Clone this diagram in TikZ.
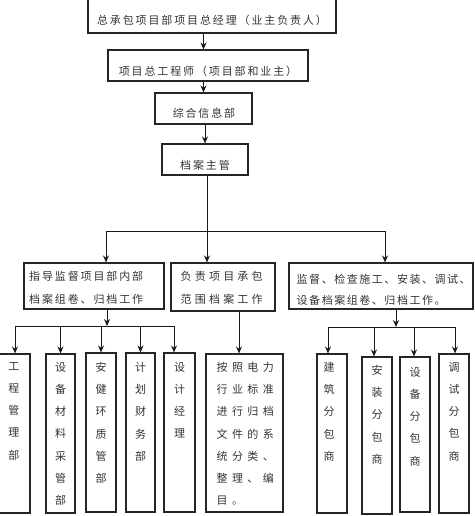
\documentclass[tikz,border=0pt]{standalone}
\usepackage{fontspec}
\usetikzlibrary{arrows.meta}
\newfontfamily\cjka[LetterSpace=17]{Noto Sans CJK SC}
\newfontfamily\cjkab[LetterSpace=14]{Noto Sans CJK SC}
\newfontfamily\cjkb[LetterSpace=29]{Noto Sans CJK SC}
\newfontfamily\cjkc[LetterSpace=40]{Noto Sans CJK SC}
\newfontfamily\cjkv{Noto Sans CJK SC}
\tikzset{
  box/.style={draw=black!85, line width=1.1pt, inner sep=0pt, rectangle},
  htxt/.style={font=\cjka\fontsize{11}{23}\selectfont, text=black!80, inner sep=0pt, align=left},
  vtxt/.style={font=\cjkv\fontsize{11}{22.2}\selectfont, text=black!80, inner sep=0pt, align=center, anchor=north},
  arr/.style={line width=1pt, draw=black!90, -{Stealth[length=7pt,width=6pt]}},
  ln/.style={line width=1pt, draw=black!90},
}
\begin{document}
\begin{tikzpicture}[x=1pt,y=-1pt]
\useasboundingbox (0,0) rectangle (474,516);
% top chain
\node[box, minimum width=248pt, minimum height=43pt] (b1) at (212,11.5) {};
\node[htxt, anchor=center] (t1) at (212,20) {总承包项目部项目总经理（业主负责人）};
\node[box, minimum width=200pt, minimum height=31pt] (b2) at (208,65.5) {};
\node[htxt, anchor=center] (t2) at (208,71) {项目总工程师（项目部和业主）};
\node[box, minimum width=97pt, minimum height=31pt] (b3) at (203.5,108.5) {};
\node[htxt, anchor=center] (t3) at (204,113) {综合信息部};
\node[box, minimum width=86pt, minimum height=31pt] (b4) at (205,159.5) {};
\node[htxt, anchor=center] (t4) at (205,165) {档案主管};
% middle row
\node[box, minimum width=140pt, minimum height=46pt] (bA) at (94,286) {};
\node[htxt, anchor=north west] (tA) at (29,271) {指导监督项目部内部\\档案组卷、归档工作};
\node[box, minimum width=104pt, minimum height=48pt] (bB) at (223,287) {};
\node[htxt, font=\cjkb\fontsize{11}{23}\selectfont, anchor=north west] (tB) at (180.5,271) {负责项目承包\\范围档案工作};
\node[box, minimum width=184pt, minimum height=46pt] (bC) at (381,286) {};
\node[htxt, font=\cjkab\fontsize{11}{21.5}\selectfont, anchor=north west] (tC) at (296.5,273.5) {监督、检查施工、安装、调试、\\设备档案组卷、归档工作。};
% bottom boxes
\node[box, minimum width=32pt, minimum height=159pt] (p1) at (14,433.5) {};
\node[vtxt] (q1) at (14,362) {工\\程\\管\\理\\部};
\node[box, minimum width=29pt, minimum height=159pt] (p2) at (60.5,433.5) {};
\node[vtxt] (q2) at (60.5,362) {设\\备\\材\\料\\采\\管\\部};
\node[box, minimum width=30pt, minimum height=159pt] (p3) at (101,432.5) {};
\node[vtxt] (q3) at (101,362) {安\\健\\环\\质\\管\\部};
\node[box, minimum width=29pt, minimum height=159pt] (p4) at (140.5,432.5) {};
\node[vtxt] (q4) at (140.5,362) {计\\划\\财\\务\\部};
\node[box, minimum width=31pt, minimum height=159pt] (p5) at (179.5,432.5) {};
\node[vtxt] (q5) at (179.5,362) {设\\计\\经\\理};
\node[box, minimum width=77pt, minimum height=158pt] (p6) at (244.5,433) {};
\node[htxt, font=\cjkc\fontsize{11}{22.2}\selectfont, anchor=north west] (q6) at (216.5,362) {按照电力\\行业标准\\进行归档\\文件的系\\统分类、\\整理、编\\目。};
\node[box, minimum width=30pt, minimum height=159pt] (p7) at (332,433.5) {};
\node[vtxt] (q7) at (329,362) {建\\筑\\分\\包\\商};
\node[box, minimum width=30pt, minimum height=157pt] (p8) at (377,435.5) {};
\node[vtxt] (q8) at (377,365) {安\\装\\分\\包\\商};
\node[box, minimum width=30pt, minimum height=155pt] (p9) at (415,434.5) {};
\node[vtxt] (q9) at (415,367) {设\\备\\分\\包\\商};
\node[box, minimum width=30pt, minimum height=159pt] (p10) at (454,433.5) {};
\node[vtxt] (q10) at (454,362) {调\\试\\分\\包\\商};
% top connectors
\draw[arr] (b1.south -| b3.north) -- (b2.north -| b3.north);
\draw[arr] (b2.south -| b3.north) -- (b3.north);
\draw[arr] (b3.south -| b4.north) -- (b4.north);
\coordinate (v4) at (207,175);
\draw[arr] (b4.south -| v4) -- (bB.north -| v4);
\coordinate (hA) at (106,231);
\coordinate (hC) at (385,231);
\draw[ln] (hA) -- (hC);
\draw[arr] (hA) -- (bA.north -| hA);
\draw[arr] (hC) -- (bC.north -| hC);
% left group
\coordinate (gA) at (107,326);
\draw[arr] (bA.south -| gA) -- (gA);
\coordinate (l1) at (15,326);
\coordinate (l2) at (60.5,326);
\coordinate (l3) at (101,326);
\coordinate (l4) at (140.5,326);
\coordinate (l5) at (174,326);
\draw[ln] (l1) -- (l5);
\draw[arr] (l1) -- (p1.north -| l1);
\draw[arr] (l2) -- (p2.north -| l2);
\draw[arr] (l3) -- (p3.north -| l3);
\draw[arr] (l4) -- (p4.north -| l4);
\draw[arr] (l5) -- (p5.north -| l5);
% middle
\coordinate (vB) at (239,311);
\draw[arr] (bB.south -| vB) -- (p6.north -| vB);
% right group
\coordinate (gC) at (396,327);
\draw[arr] (bC.south -| gC) -- (gC);
\coordinate (r1) at (328,327);
\coordinate (r2) at (374,327);
\coordinate (r3) at (414,327);
\coordinate (r4) at (455,327);
\draw[ln] (r1) -- (r4);
\draw[arr] (r1) -- (p7.north -| r1);
\draw[arr] (r2) -- (p8.north -| r2);
\draw[arr] (r3) -- (p9.north -| r3);
\draw[arr] (r4) -- (p10.north -| r4);
\end{tikzpicture}
\end{document}
